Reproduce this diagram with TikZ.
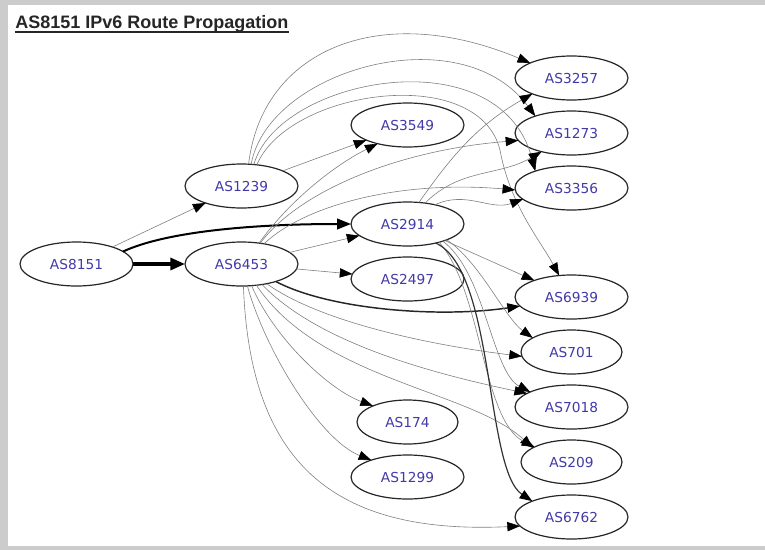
\documentclass[tikz,border=0pt]{standalone}
\usepackage{fontspec}
\setmainfont{DejaVu Sans}
\newfontfamily\headfont{Liberation Sans}
\usepackage{tikz}
\usetikzlibrary{arrows.meta,shapes.geometric,positioning}
\definecolor{asblue}{RGB}{66,58,168}
\definecolor{framegray}{RGB}{204,204,204}

\begin{document}
\begin{tikzpicture}[x=0.75pt, y=-0.75pt,
      asnode/.style={ellipse, draw=black!85, line width=0.9pt, outer sep=0pt,
                     minimum width=84.75pt, minimum height=33pt, inner sep=1pt,
                     text=asblue, font=\fontsize{10.3}{12}\selectfont},
      narrow/.style={minimum width=75.75pt},
      link/.style={-{Triangle[length=9.5pt, width=7pt, color=black]},
                   draw=black!50, line width=0.45pt},
      heavy/.style={-{Triangle[length=11pt, width=9pt]}, draw=black,
                    line width=2.4pt}
    ]
    \useasboundingbox (0,0) rectangle (765,550);
    \fill[framegray] (0,0) rectangle (765,550);
    \fill[white] (8,5) rectangle (765,546);

    \node[font=\headfont\bfseries\fontsize{13.5}{16}\selectfont, text=black!85,
          anchor=base west, inner sep=0pt] (title) at (15,28.3)
          {AS8151 IPv6 Route Propagation};
    \draw[line width=1.1pt, black!85] ([yshift=-2.6pt]title.base west)
      -- ([yshift=-2.6pt]title.base east);

    % ranks from left to right
    \node[asnode] (as8151) at (76.5,264) {AS8151};
    \node[asnode, right=39pt of as8151] (as6453) {AS6453};
    \node[asnode, above=25.5pt of as6453] (as1239) {AS1239};

    \node[asnode, right=39.75pt of as6453, yshift=30pt] (as2914) {AS2914};
    \node[asnode, right=39.75pt of as6453, yshift=-11.25pt] (as2497) {AS2497};
    \node[asnode, above=41.25pt of as2914] (as3549) {AS3549};
    \node[asnode, narrow, below=74.25pt of as2497] (as174) {AS174};
    \node[asnode, below=8.25pt of as174] (as1299) {AS1299};

    \node[asnode, right=38.25pt of as3549, yshift=35.25pt] (as3257) {AS3257};
    \node[asnode, below=8.25pt of as3257] (as1273) {AS1273};
    \node[asnode, below=8.25pt of as1273] (as3356) {AS3356};
    \node[asnode, below=48.75pt of as3356] (as6939) {AS6939};
    \node[asnode, narrow, below=8.25pt of as6939] (as701) {AS701};
    \node[asnode, below=8.25pt of as701] (as7018) {AS7018};
    \node[asnode, narrow, below=8.25pt of as7018] (as209) {AS209};
    \node[asnode, below=8.25pt of as209] (as6762) {AS6762};

    % AS8151
    \draw[link] (as8151) -- (as1239);
    \draw[heavy] (as8151) -- (as6453);
    \draw[link, draw=black, line width=1.5pt,
          -{Triangle[length=10.5pt, width=8pt]}]
      (as8151.15) .. controls (165,232) and (250,224) .. (as2914.west);

    % AS1239
    \draw[link] (as1239) -- (as3549);
    \draw[link] (as1239.72) .. controls (262,50) and (380,0) .. (as3257.160);
    \draw[link] (as1239.66) .. controls (268,70) and (460,15) .. (as1273.155);
    \draw[link] (as1239.60) .. controls (278,78) and (500,35) .. (as3356.155);
    \draw[link] (as1239.54) .. controls (288,90) and (478,62) .. (500,150)
      .. controls (510,205) and (540,240) .. (as6939.120);

    % AS6453
    \draw[link] (as6453.50) .. controls (290,200) and (335,165) .. (as3549.212);
    \draw[link] (as6453.48) .. controls (300,190) and (400,150) .. (as1273.188);
    \draw[link] (as6453.42) .. controls (305,205) and (400,180) .. (as3356.182);
    \draw[link] (as6453) -- (as2914);
    \draw[link] (as6453) -- (as2497);
    \draw[link, draw=black!85, line width=1.1pt]
      (as6453.-27) .. controls (330,310) and (440,318) .. (as6939.190);
    \draw[link] (as6453.-38) .. controls (320,322) and (430,345) .. (as701.185);
    \draw[link] (as6453.-45) .. controls (320,345) and (440,375) .. (as7018.163);
    \draw[link] (as6453.-55) .. controls (320,380) and (470,390) .. (as209.160);
    \draw[link] (as6453.-65) .. controls (275,340) and (330,390) .. (as174.155);
    \draw[link] (as6453.-75) .. controls (265,350) and (320,440) .. (as1299.155);
    \draw[link] (as6453.-85) .. controls (250,460) and (330,535) .. (as6762.190);

    % AS2914
    \draw[link] (as2914.62) to[out=55, in=210] (as3257.202);
    \draw[link] (as2914.50) to[out=45, in=210] (as1273.212);
    \draw[link] (as2914.35) to[out=25, in=200] (as3356.193);
    \draw[link] (as2914) -- (as6939);
    \draw[link] (as2914.-22) .. controls (480,262) and (505,318) .. (as701.160);
    \draw[link] (as2914.-26) .. controls (485,272) and (492,372) .. (as7018.160);
    \draw[link] (as2914.-30) .. controls (482,290) and (482,420) .. (as209.158);
    \draw[link, draw=black!80, line width=0.9pt]
      (as2914.-34) .. controls (495,270) and (485,470) .. (as6762.158);
  \end{tikzpicture}
\end{document}
